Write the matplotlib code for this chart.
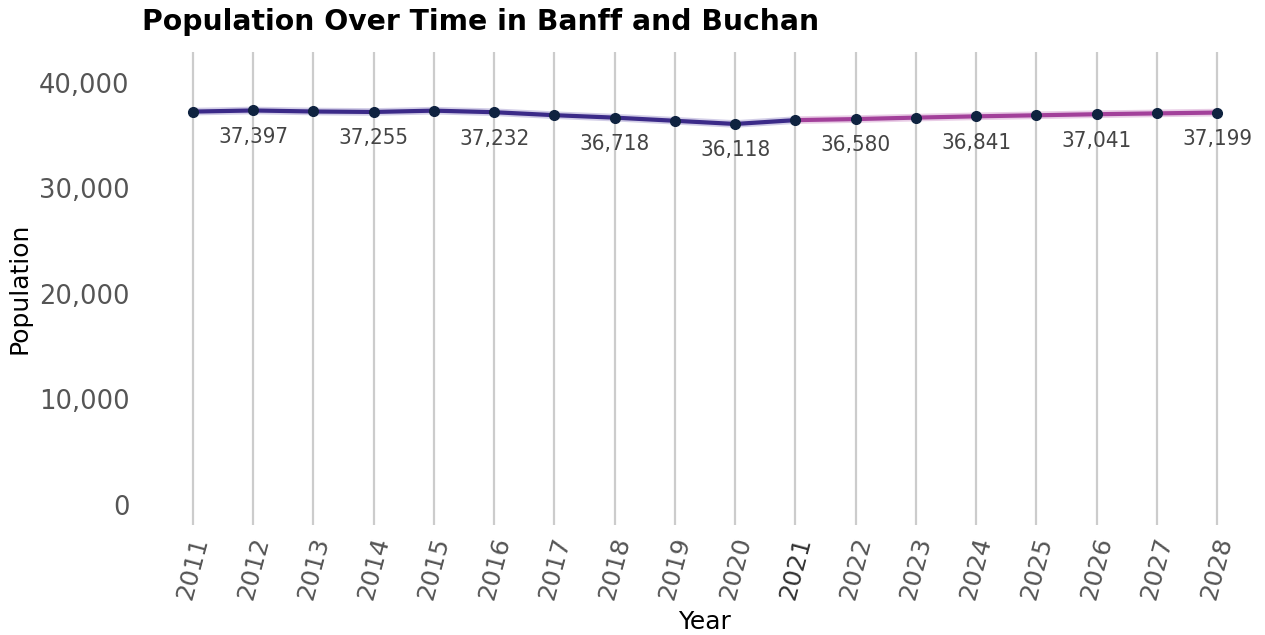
import matplotlib.pyplot as plt
from matplotlib.ticker import FuncFormatter

# population, historical and projected
hist_years = [2011, 2012, 2013, 2014, 2015, 2016, 2017, 2018, 2019, 2020, 2021]
hist_pop = [37290, 37397, 37300, 37255, 37380, 37232, 36950, 36718, 36420, 36118, 36480]
proj_years = [2021, 2022, 2023, 2024, 2025, 2026, 2027, 2028]
proj_pop = [36480, 36580, 36720, 36841, 36940, 37041, 37120, 37199]

all_years = hist_years + proj_years[1:]
all_pop = hist_pop + proj_pop[1:]

fig = plt.figure(figsize=(12.65, 6.35), dpi=100)
ax = fig.add_axes([141.8 / 1265, 110 / 635, 1126.4 / 1265, 473 / 635])

# glow + core line
ax.plot(hist_years, hist_pop, color='#6a5cb0', lw=5.5, alpha=0.3, solid_capstyle='round')
ax.plot(hist_years, hist_pop, color='#3b2a88', lw=3)
ax.plot(proj_years, proj_pop, color='#c070b8', lw=5.5, alpha=0.35, solid_capstyle='round')
ax.plot(proj_years, proj_pop, color='#a2409a', lw=3)
ax.plot(all_years, all_pop, 'o', color='#0f2340', ms=7, zorder=5)

for yr, p in zip(all_years, all_pop):
    if yr % 2 == 0:
        ax.annotate(f'{p:,}', (yr, p), xytext=(0, -19), textcoords='offset points',
                    ha='center', va='center', fontsize=16, color='#444444',
                    fontstretch='condensed')

ax.set_xlim(2010.15, 2028.85)
ax.set_ylim(-1900, 42940)
ax.set_yticks([0, 10000, 20000, 30000, 40000])
ax.yaxis.set_major_formatter(FuncFormatter(lambda v, _: f'{int(v):,}'))
ax.set_xticks(all_years)
ax.set_xticklabels([str(y) for y in all_years], rotation=75, fontsize=18, color='#555555')
ax.tick_params(axis='y', labelsize=18.5, labelcolor='#555555', length=0, pad=9)
ax.tick_params(axis='x', length=0, pad=7)
for lbl in ax.get_xticklabels():
    if lbl.get_text() == '2021':
        lbl.set_color('#333333')

ax.grid(axis='x', color='#cccccc', lw=1.6)
ax.grid(axis='y', visible=False)
for s in ax.spines.values():
    s.set_visible(False)

ax.set_xlabel('Year', fontsize=18, labelpad=5)
ax.set_ylabel('Population', fontsize=18, labelpad=5)
ax.set_title('Population Over Time in Banff and Buchan', loc='left', fontsize=20.3,
             fontweight='bold', pad=15.5)

fig.savefig('out.png', dpi=100)
